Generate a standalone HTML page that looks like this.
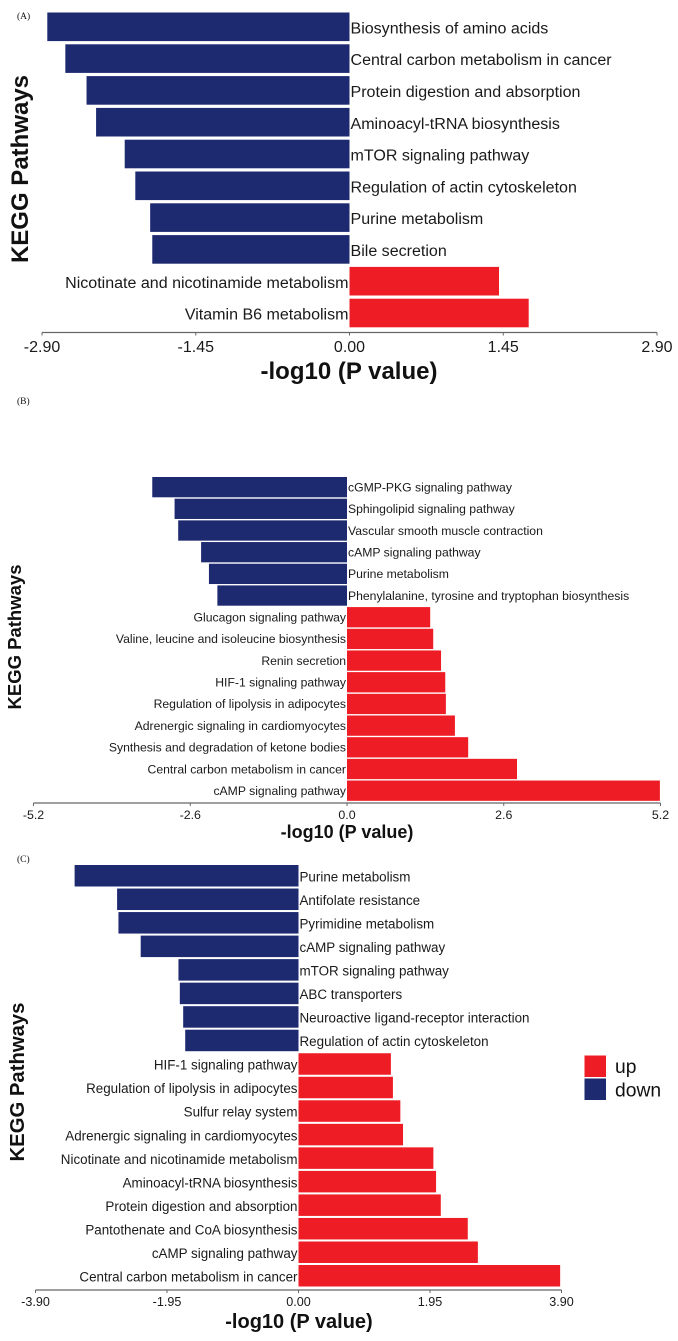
<!DOCTYPE html>
<html lang="en">
<head>
<meta charset="utf-8">
<title>KEGG Pathways</title>
<style>
html,body{margin:0;padding:0;background:#fff;width:678px;height:1341px;overflow:hidden}
svg{display:block;font-family:"Liberation Sans",Arial,sans-serif}
</style>
</head>
<body>
<svg id="chart" xmlns="http://www.w3.org/2000/svg" width="678" height="1341" viewBox="0 0 678 1341"></svg>
<script>
const categoriesA = ["Biosynthesis of amino acids","Central carbon metabolism in cancer","Protein digestion and absorption","Aminoacyl-tRNA biosynthesis","mTOR signaling pathway","Regulation of actin cytoskeleton","Purine metabolism","Bile secretion","Nicotinate and nicotinamide metabolism","Vitamin B6 metabolism"];
const valuesA = [-2.85,-2.68,-2.48,-2.39,-2.12,-2.02,-1.88,-1.86,1.41,1.69];
const ticksA = ["-2.90","-1.45","0.00","1.45","2.90"];

const categoriesB = ["cGMP-PKG signaling pathway","Sphingolipid signaling pathway","Vascular smooth muscle contraction","cAMP signaling pathway","Purine metabolism","Phenylalanine, tyrosine and tryptophan biosynthesis","Glucagon signaling pathway","Valine, leucine and isoleucine biosynthesis","Renin secretion","HIF-1 signaling pathway","Regulation of lipolysis in adipocytes","Adrenergic signaling in cardiomyocytes","Synthesis and degradation of ketone bodies","Central carbon metabolism in cancer","cAMP signaling pathway"];
const valuesB = [-3.23,-2.86,-2.80,-2.42,-2.29,-2.15,1.38,1.43,1.56,1.63,1.64,1.79,2.01,2.82,5.19];
const ticksB = ["-5.2","-2.6","0.0","2.6","5.2"];

const categoriesC = ["Purine metabolism","Antifolate resistance","Pyrimidine metabolism","cAMP signaling pathway","mTOR signaling pathway","ABC transporters","Neuroactive ligand-receptor interaction","Regulation of actin cytoskeleton","HIF-1 signaling pathway","Regulation of lipolysis in adipocytes","Sulfur relay system","Adrenergic signaling in cardiomyocytes","Nicotinate and nicotinamide metabolism","Aminoacyl-tRNA biosynthesis","Protein digestion and absorption","Pantothenate and CoA biosynthesis","cAMP signaling pathway","Central carbon metabolism in cancer"];
const valuesC = [-3.32,-2.69,-2.67,-2.34,-1.78,-1.76,-1.71,-1.68,1.37,1.40,1.51,1.55,2.00,2.04,2.11,2.51,2.66,3.88];
const ticksC = ["-3.90","-1.95","0.00","1.95","3.90"];

const legendLabels = ["up","down"];

const NS = "http://www.w3.org/2000/svg";
const RED = "#ee1c25";
const NAVY = "#1e2a70";
const root = document.getElementById("chart");

function make(parent, tag, attrs, text) {
  const el = document.createElementNS(NS, tag);
  for (const k in attrs) el.setAttribute(k, attrs[k]);
  if (text !== undefined) el.textContent = text;
  parent.appendChild(el);
  return el;
}

function drawPanel(p) {
  const g = make(root, "g", {});
  
  

  const maxVal = Math.abs(parseFloat(p.ticks[0]));
  const xScale = v => p.zero + v * (p.xRight - p.zero) / maxVal;
  const yScale = i => p.top + i * p.step;

  const tag = make(g, "text", {x: 17, y: p.tagY, "font-size": 9.5, "font-family": '"Liberation Serif",serif', fill: "#111"}, "(" + p.id + ")");
  
  

  p.values.forEach((v, i) => {
    const x0 = xScale(Math.min(v, 0));
    const x1 = xScale(Math.max(v, 0));
    const bar = make(g, "rect", {x: x0, y: yScale(i), width: x1 - x0, height: p.barH, fill: v < 0 ? NAVY : RED});
    
    

    const label = make(g, "text", {
      x: v < 0 ? p.zero + 1 : p.zero - 1,
      y: yScale(i) + p.barH / 2 + p.labelSize * 0.35 + p.labelShift,
      "font-size": p.labelSize,
      "text-anchor": v < 0 ? "start" : "end",
      fill: "#1a1a1a"
    }, p.categories[i]);
    
    
  });

  const axis = make(g, "line", {x1: xScale(-maxVal), x2: xScale(maxVal), y1: p.axisY, y2: p.axisY, stroke: "#666", "stroke-width": 1.2});
  
  

  p.ticks.forEach(t => {
    const tx = xScale(parseFloat(t));
    const tick = make(g, "line", {x1: tx, x2: tx, y1: p.axisY, y2: p.axisY + 3, stroke: "#666", "stroke-width": 1});
    
    
    const tl = make(g, "text", {x: tx, y: p.tickY, "font-size": p.tickSize, "text-anchor": "middle", fill: "#1a1a1a"}, t);
    
    
  });

  const xt = make(g, "text", {x: p.xTitleX, y: p.xTitleY, "font-size": p.xTitleSize, "font-weight": "bold", "text-anchor": "middle", fill: "#111"}, "-log10 (P value)");
  
  

  const yt = make(g, "text", {
    transform: "translate(" + p.yTitleX + "," + p.yTitleY + ") rotate(-90)",
    "font-size": p.yTitleSize, "font-weight": "bold", "text-anchor": "middle", fill: "#111"
  }, "KEGG Pathways");
  
  
}

drawPanel({id:"A", categories:categoriesA, values:valuesA, ticks:ticksA,
  zero:349.5, xRight:657, top:12.5, step:31.8, barH:28.6, axisY:332.5,
  tagY:19, labelSize:16.05, labelShift:1, tickSize:16, tickY:352,
  xTitleX:349, xTitleY:379, xTitleSize:24, yTitleX:28, yTitleY:169, yTitleSize:24});

drawPanel({id:"B", categories:categoriesB, values:valuesB, ticks:ticksB,
  zero:347, xRight:660.5, top:477, step:21.68, barH:20.3, axisY:803,
  tagY:404, labelSize:12.2, labelShift:0, tickSize:12.4, tickY:819,
  xTitleX:347, xTitleY:838, xTitleSize:18, yTitleX:21, yTitleY:637, yTitleSize:18.5});

drawPanel({id:"C", categories:categoriesC, values:valuesC, ticks:ticksC,
  zero:298.5, xRight:561.5, top:865, step:23.53, barH:21.5, axisY:1290,
  tagY:862, labelSize:13.4, labelShift:1, tickSize:12.6, tickY:1306,
  xTitleX:299, xTitleY:1328, xTitleSize:20, yTitleX:24, yTitleY:1082, yTitleSize:20.3});

const legend = make(root, "g", {});


legendLabels.forEach((name, i) => {
  const sw = make(legend, "rect", {x: 584.5, y: 1055.5 + i * 23, width: 21.5, height: 21.5, fill: i === 0 ? RED : NAVY});
  
  
  const lb = make(legend, "text", {x: 615, y: 1073 + i * 23.5, "font-size": 19.3, fill: "#111"}, name);
  
  
});
</script>
</body>
</html>
